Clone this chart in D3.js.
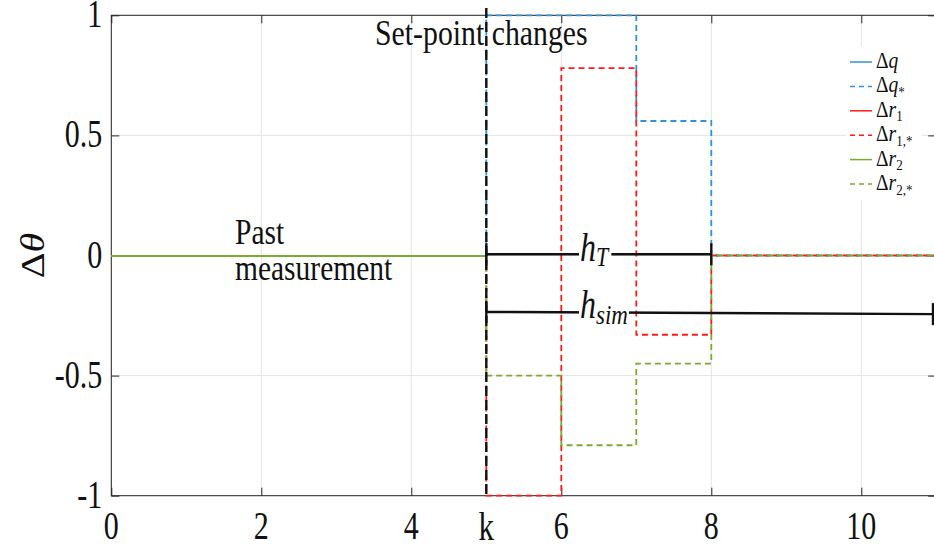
<!DOCTYPE html>
<html>
<head>
<meta charset="utf-8">
<script src="https://cdn.jsdelivr.net/npm/d3@7"></script>
<style>
  html, body { margin: 0; padding: 0; background: #fff; }
  svg { display: block; }
  text { font-family: "Liberation Serif", "Times New Roman", serif; fill: #111; }
</style>
</head>
<body>
<svg id="chart" width="934" height="548"></svg>
<script>
// Axis ticks
const xTicks = [0, 2, 4, 6, 8, 10];
const yTicks = [-1, -0.5, 0, 0.5, 1];
const yTickLabels = ["-1", "-0.5", "0", "0.5", "1"];
const kTick = 5;

// Past measurements (solid) up to step k
const pastX = [0, 5];
const pastQ = [0, 0];
const pastR1 = [0, 0];
const pastR2 = [0, 0];

// Predicted set-point changes (dashed), stepped from k onwards
const predX = [5, 5, 6, 7, 8, 11];
const qPred = [0, 1, 1, 0.56, 0, 0];
const r1Pred = [0, -1, 0.78, -0.33, 0, 0];
const r2Pred = [0, -0.5, -0.79, -0.45, 0, 0];

// Horizon brackets
const hTSpan = { x0: 5, x1: 8, y0: 0.005, y1: 0.005 };
const hSimSpan = { x0: 5, x1: 10.956, y0: -0.235, y1: -0.244 };

const colors = { q: "#2f93dc", r1: "#ff1a1a", r2: "#77ac30" };

const svg = d3.select("#chart");
const SY = 1.22;      // vertical text stretch
const SY_TICK = 1.3;  // vertical stretch of tick labels

const x = d3.scaleLinear().domain([0, 11]).range([111.3, 936.3]);
const y = d3.scaleLinear().domain([-1, 1]).range([495.7, 15.3]);

// Grid
const grid = svg.append("g").attr("stroke", "#e4e4e4").attr("stroke-width", 1);
grid.selectAll("line.gx").data(xTicks).join("line")
  .attr("x1", d => x(d)).attr("x2", d => x(d))
  .attr("y1", y(-1)).attr("y2", y(1));
grid.selectAll("line.gy").data(yTicks).join("line")
  .attr("x1", x(0)).attr("x2", x(11))
  .attr("y1", d => y(d)).attr("y2", d => y(d));

// Axes (ticks pointing inward, box on)
const axisColor = "#262626";
const tickLen = 8;
const axBottom = svg.append("g").attr("transform", `translate(0,${y(-1)})`)
  .call(d3.axisTop(x).tickValues(xTicks).tickSize(tickLen).tickFormat(""));
const axTop = svg.append("g").attr("transform", `translate(0,${y(1)})`)
  .call(d3.axisBottom(x).tickValues(xTicks).tickSize(tickLen).tickFormat(""));
const axLeft = svg.append("g").attr("transform", `translate(${x(0)},0)`)
  .call(d3.axisRight(y).tickValues(yTicks).tickSize(tickLen).tickFormat(""));
const axRight = svg.append("g").attr("transform", `translate(${x(11)},0)`)
  .call(d3.axisLeft(y).tickValues(yTicks).tickSize(tickLen).tickFormat(""));
[axBottom, axTop, axLeft, axRight].forEach(a => {
  a.select(".domain").remove();
  a.selectAll(".tick line").attr("stroke", axisColor);
});
// spines
svg.append("rect")
  .attr("x", x(0)).attr("y", y(1))
  .attr("width", x(11) - x(0)).attr("height", y(-1) - y(1))
  .attr("fill", "none").attr("stroke", axisColor).attr("stroke-width", 1);

// Helper for vertically stretched text
function label(parent, tx, ty, size, anchor, sy = SY) {
  return parent.append("text")
    .attr("transform", `translate(${tx},${ty}) scale(1,${sy})`)
    .attr("font-size", size)
    .attr("text-anchor", anchor);
}

// Tick labels
const tl = svg.append("g");
xTicks.forEach(v => label(tl, x(v), 539, 30, "middle", SY_TICK).text(v));
label(tl, x(kTick), 540, 31, "middle", SY_TICK).text("k");
yTicks.forEach((v, i) => label(tl, x(0) - 9, y(v) + 12, 30, "end", SY_TICK).text(yTickLabels[i]));

// Y axis label
svg.append("text")
  .attr("transform", `translate(44,${y(0)}) rotate(-90) scale(${SY},1)`)
  .attr("font-size", 33).attr("text-anchor", "middle")
  .call(t => {
    t.append("tspan").text("Δ");
    t.append("tspan").attr("font-style", "italic").text("θ");
  });

// Series
const lineGen = d3.line().x(d => x(d[0])).y(d => y(d[1]));
const stepGen = d3.line().x(d => x(d[0])).y(d => y(d[1])).curve(d3.curveStepAfter);
const series = [
  { xs: pastX, ys: pastQ, color: colors.q, dash: null, w: 2, gen: lineGen },
  { xs: predX, ys: qPred, color: colors.q, dash: "6,4", w: 1.8, gen: stepGen },
  { xs: pastX, ys: pastR1, color: colors.r1, dash: null, w: 2, gen: lineGen },
  { xs: predX, ys: r1Pred, color: colors.r1, dash: "6,4", w: 1.8, gen: stepGen },
  { xs: pastX, ys: pastR2, color: colors.r2, dash: null, w: 2, gen: lineGen },
  { xs: predX, ys: r2Pred, color: colors.r2, dash: "6,4", w: 1.8, gen: stepGen }
];
svg.append("g").selectAll("path").data(series).join("path")
  .attr("d", s => s.gen(s.xs.map((v, i) => [v, s.ys[i]])))
  .attr("fill", "none")
  .attr("stroke", s => s.color)
  .attr("stroke-width", s => s.w)
  .attr("shape-rendering", s => s.dash ? null : "crispEdges")
  .attr("stroke-dasharray", s => s.dash);

// Current step k marker
svg.append("line")
  .attr("x1", x(kTick)).attr("x2", x(kTick))
  .attr("y1", y(1.03)).attr("y2", y(-1))
  .attr("stroke", "#111").attr("stroke-width", 2.4)
  .attr("stroke-dasharray", "10,4");

// Horizon brackets with labels
function bracket(span, textFn, textX, baseOff) {
  const g = svg.append("g");
  const X0 = x(span.x0), X1 = x(span.x1), Y0 = y(span.y0), Y1 = y(span.y1);
  g.append("line").attr("x1", X0).attr("x2", X1).attr("y1", Y0).attr("y2", Y1)
    .attr("stroke", "#111").attr("stroke-width", 2.4);
  g.append("line").attr("x1", X0).attr("x2", X0).attr("y1", Y0 - 11).attr("y2", Y0 + 11)
    .attr("stroke", "#111").attr("stroke-width", 2.4);
  g.append("line").attr("x1", X1).attr("x2", X1).attr("y1", Y1 - 11).attr("y2", Y1 + 11)
    .attr("stroke", "#111").attr("stroke-width", 2.4);
  const bg = g.append("rect").attr("fill", "#fff");
  const t = label(g, textX, Y0 + baseOff, 32, "start");
  textFn(t);
  const bb = t.node().getBBox();
  bg.attr("x", textX + bb.x - 1).attr("width", bb.width + 2)
    .attr("y", Y0 - 4).attr("height", 8);
}
bracket(hTSpan, t => {
  t.append("tspan").attr("font-style", "italic").text("h");
  t.append("tspan").attr("font-style", "italic").attr("font-size", 22).attr("dy", 4).text("T");
}, 580, 7);
bracket(hSimSpan, t => {
  t.append("tspan").attr("font-style", "italic").text("h");
  t.append("tspan").attr("font-style", "italic").attr("font-size", 23).attr("dy", 5).text("sim");
}, 580, 6);

// Annotations
label(svg, 375, 45, 29.8, "start").text("Set-point changes");
label(svg, 235, 244, 29.5, "start").text("Past");
label(svg, 235, 280, 29.5, "start").text("measurement");

// Legend
const legendItems = [
  { base: "q", sub: null, color: colors.q, dash: null },
  { base: "q", sub: "*", color: colors.q, dash: "5,4" },
  { base: "r", sub: "1", color: colors.r1, dash: null },
  { base: "r", sub: "1,*", color: colors.r1, dash: "5,4" },
  { base: "r", sub: "2", color: colors.r2, dash: null },
  { base: "r", sub: "2,*", color: colors.r2, dash: "5,4" }
];
const lg = svg.append("g");
lg.append("rect").attr("x", 846).attr("y", 46).attr("width", 76).attr("height", 154).attr("fill", "#fff");
legendItems.forEach((d, i) => {
  const cy = 62 + i * 24.4;
  lg.append("line").attr("x1", 850).attr("x2", 872).attr("y1", cy).attr("y2", cy)
    .attr("stroke", d.color).attr("stroke-width", 1.5).attr("stroke-dasharray", d.dash);
  const t = label(lg, 876, cy + 6, 19.5, "start", 1.15);
  t.append("tspan").text("Δ");
  t.append("tspan").attr("font-style", "italic").text(d.base);
  if (d.sub) t.append("tspan").attr("font-size", 13).attr("dy", 4).text(d.sub);
});
</script>
</body>
</html>
